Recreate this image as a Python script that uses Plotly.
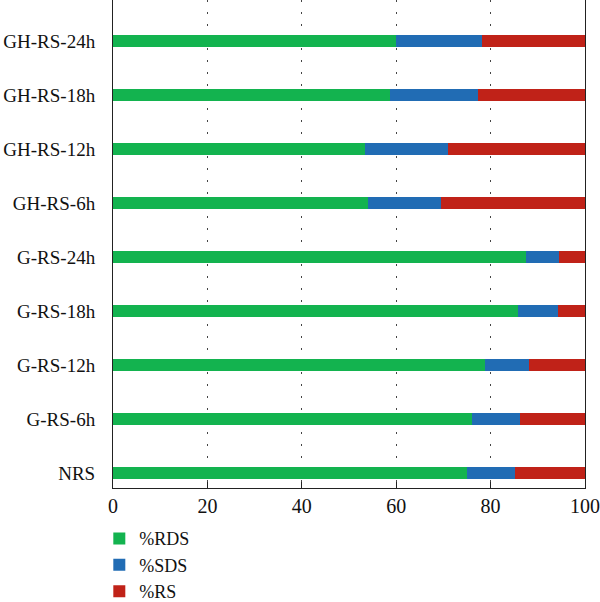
import plotly.graph_objects as go

categories = ["NRS", "G-RS-6h", "G-RS-12h", "G-RS-18h", "G-RS-24h",
              "GH-RS-6h", "GH-RS-12h", "GH-RS-18h", "GH-RS-24h"]
rds = [74.9, 76.0, 78.9, 85.7, 87.5, 54.1, 53.4, 58.7, 60.0]
sds = [10.3, 10.3, 9.2, 8.6, 6.9, 15.4, 17.5, 18.6, 18.1]
rs = [14.8, 13.7, 11.9, 5.7, 5.6, 30.5, 29.1, 22.7, 21.9]
series_names = ["%RDS", "%SDS", "%RS"]
colors = ["#13B34F", "#216CB4", "#C02218"]
x_ticks = [0, 20, 40, 60, 80, 100]

FONT = "Liberation Serif"

fig = go.Figure()
for name, vals, col in zip(series_names, [rds, sds, rs], colors):
    fig.add_trace(go.Bar(
        y=categories, x=vals, name=name, orientation="h",
        marker=dict(color=col, line=dict(width=0)),
        width=0.23,
    ))

fig.update_layout(
    barmode="stack",
    width=600, height=602,
    margin=dict(l=113, r=15, t=0, b=114, autoexpand=False),
    plot_bgcolor="white", paper_bgcolor="white",
    font=dict(family=FONT, size=19, color="#111111"),
    legend=dict(
        traceorder="normal",
        orientation="v",
        x=-0.029, xanchor="left",
        y=-0.066, yanchor="top",
        font=dict(family=FONT, size=18, color="#111111"),
        bgcolor="rgba(0,0,0,0)",
        itemclick=False,
    ),
    showlegend=True,
)

fig.update_xaxes(
    range=[0, 100],
    tickvals=x_ticks,
    ticktext=[str(v) for v in x_ticks],
    showline=True, linecolor="#222222", linewidth=1, mirror=False,
    ticks="inside", ticklen=6, tickcolor="#222222",
    showgrid=True, gridcolor="#444444", gridwidth=1, griddash="2px,10px",
    zeroline=False,
    tickfont=dict(family=FONT, size=20),
    ticklabelstandoff=0,
)
fig.update_yaxes(
    type="category",
    categoryorder="array", categoryarray=categories,
    range=[-0.28, 8.76],
    showline=True, linecolor="#222222", linewidth=1, mirror=True,
    ticks="", showgrid=False, zeroline=False,
    tickfont=dict(family=FONT, size=19),
    ticklabelstandoff=13,
)

fig.write_html("out.html")
